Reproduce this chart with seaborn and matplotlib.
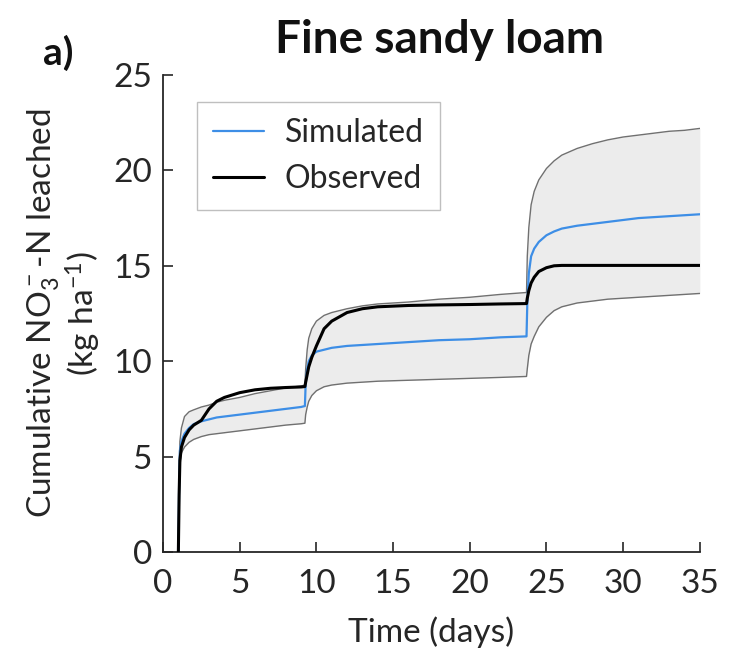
import matplotlib
matplotlib.use("Agg")
import matplotlib.pyplot as plt
import seaborn as sns
import pandas as pd

# ---- data ----
days = [1.0, 1.05, 1.1, 1.2, 1.4, 1.7, 2.0, 2.5, 3.0, 3.5, 4.0, 5.0, 6.0, 7.0, 8.0, 9.0,
        9.25, 9.3, 9.4, 9.5, 9.7, 10.0, 10.5, 11.0, 12.0, 13.0, 14.0, 16.0, 18.0, 20.0, 22.0,
        23.7, 23.75, 23.85, 24.0, 24.2, 24.5, 25.0, 25.5, 26.0, 27.0, 28.0, 29.0, 30.0,
        31.0, 32.0, 33.0, 34.0, 35.0]

upper = [0, 4.5, 5.8, 6.5, 7.1, 7.35, 7.45, 7.6, 7.7, 7.85, 7.95, 8.1, 8.3, 8.45, 8.6, 8.7,
         8.75, 9.6, 10.6, 11.2, 11.7, 12.1, 12.4, 12.55, 12.75, 12.9, 13.0, 13.1, 13.25, 13.35, 13.5,
         13.6, 15.5, 17.0, 18.2, 18.9, 19.5, 20.1, 20.5, 20.8, 21.15, 21.4, 21.6, 21.75,
         21.85, 21.95, 22.05, 22.1, 22.2]

lower = [0, 2.5, 4.5, 5.2, 5.5, 5.75, 5.9, 6.05, 6.15, 6.2, 6.25, 6.35, 6.45, 6.55, 6.65, 6.72,
         6.75, 7.2, 7.6, 7.9, 8.2, 8.45, 8.66, 8.75, 8.85, 8.9, 8.95, 9.0, 9.05, 9.1, 9.15,
         9.2, 9.6, 10.3, 10.9, 11.3, 11.8, 12.3, 12.65, 12.85, 13.05, 13.15, 13.25, 13.3,
         13.35, 13.4, 13.45, 13.5, 13.55]

simulated = [0, 3.5, 5.3, 5.8, 6.2, 6.5, 6.7, 6.85, 6.95, 7.05, 7.1, 7.2, 7.3, 7.4, 7.5, 7.6,
             7.65, 8.8, 9.6, 10.0, 10.3, 10.5, 10.6, 10.7, 10.8, 10.85, 10.9, 11.0, 11.1, 11.15, 11.25,
             11.3, 13.0, 14.6, 15.5, 15.9, 16.25, 16.6, 16.8, 16.95, 17.1, 17.2, 17.3, 17.4,
             17.5, 17.55, 17.6, 17.65, 17.7]

observed = [0, 3.0, 4.8, 5.5, 6.0, 6.4, 6.65, 6.9, 7.5, 7.9, 8.1, 8.35, 8.5, 8.58, 8.62, 8.65,
            8.67, 8.9, 9.3, 9.7, 10.2, 10.8, 11.7, 12.1, 12.55, 12.75, 12.85, 12.92, 12.95, 12.97, 13.0,
            13.02, 13.3, 13.7, 14.1, 14.4, 14.7, 14.9, 15.0, 15.02, 15.02, 15.02, 15.02, 15.02,
            15.02, 15.02, 15.02, 15.02, 15.02]

x_ticks = [0, 5, 10, 15, 20, 25, 30, 35]
y_ticks = [0, 5, 10, 15, 20, 25]

df = pd.DataFrame({"days": days, "upper": upper, "lower": lower,
                   "Simulated": simulated, "Observed": observed})

sns.set_theme(style="ticks")
plt.rcParams["font.family"] = ["Lato", "DejaVu Sans"]
plt.rcParams["mathtext.default"] = "regular"

TXT = "#262626"
fig = plt.figure(figsize=(7.39, 6.66), dpi=100)
ax = fig.add_axes([0.2206, 0.1712, 0.7264, 0.7162])

ax.fill_between(df["days"], df["lower"], df["upper"], color="#ececec", lw=0, zorder=1)
sns.lineplot(data=df, x="days", y="upper", ax=ax, color="#707070", lw=1.0,
             estimator=None, sort=False, zorder=2)
sns.lineplot(data=df, x="days", y="lower", ax=ax, color="#707070", lw=1.0,
             estimator=None, sort=False, zorder=2)
sns.lineplot(data=df, x="days", y="Simulated", ax=ax, color="#3d8ee6", lw=1.6,
             estimator=None, sort=False, zorder=3, label="Simulated")
sns.lineplot(data=df, x="days", y="Observed", ax=ax, color="black", lw=2.2,
             estimator=None, sort=False, zorder=4, label="Observed")

ax.set_xlim(0, 35)
ax.set_ylim(0, 25)
ax.set_xticks(x_ticks)
ax.set_yticks(y_ticks)
ax.tick_params(direction="in", length=7, width=1.2, labelsize=24, colors=TXT)
ax.tick_params(axis="x", pad=12)
ax.tick_params(axis="y", pad=8)
for s in ["top", "right"]:
    ax.spines[s].set_visible(False)
for s in ["left", "bottom"]:
    ax.spines[s].set_color(TXT)
    ax.spines[s].set_linewidth(1.3)

ax.set_xlabel("Time (days)", fontsize=24, color=TXT, labelpad=13)
ax.set_ylabel("Cumulative NO$_3^-$-N leached\n(kg ha$^{-1}$)", fontsize=24,
              color=TXT, labelpad=7, linespacing=1.08)

leg = ax.legend(loc="upper left", bbox_to_anchor=(0.063, 0.943), fontsize=23,
                frameon=True, fancybox=False, edgecolor="#b0b0b0", handlelength=1.6,
                borderpad=0.5, labelspacing=0.5, handletextpad=0.65, borderaxespad=0)
leg.get_frame().set_linewidth(1.0)
for t in leg.get_texts():
    t.set_color(TXT)

fig.text(0.595, 0.94, "Fine sandy loam", ha="center", va="center",
         fontsize=33, fontweight="bold", color="#111111")
fig.text(0.079, 0.92, "a)", ha="center", va="center",
         fontsize=28, fontweight="bold", color="#111111")

fig.savefig("out.png", dpi=100)
